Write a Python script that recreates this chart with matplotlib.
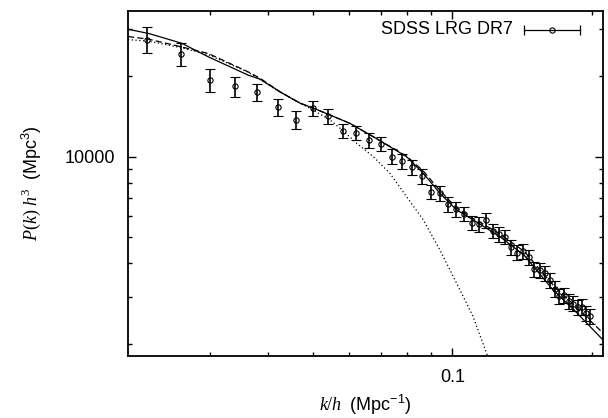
import numpy as np
import matplotlib
matplotlib.use("Agg")
import matplotlib.pyplot as plt
from matplotlib.ticker import FixedLocator, FixedFormatter, NullFormatter

plt.rcParams['font.family'] = ['Liberation Sans', 'DejaVu Sans']
plt.rcParams['mathtext.fontset'] = 'custom'
plt.rcParams['mathtext.rm'] = 'Liberation Serif'
plt.rcParams['mathtext.it'] = 'Liberation Serif:italic'
plt.rcParams['mathtext.sf'] = 'Liberation Sans'

# SDSS LRG DR7 band powers
k_data = [0.022, 0.026, 0.030, 0.034, 0.038, 0.042, 0.046, 0.050, 0.054, 0.058,
          0.062, 0.066, 0.070, 0.074, 0.078, 0.082, 0.086, 0.090, 0.094, 0.098,
          0.102, 0.106, 0.110, 0.114, 0.118, 0.122, 0.126, 0.130, 0.134, 0.138,
          0.142, 0.146, 0.150, 0.154, 0.158, 0.162, 0.166, 0.170, 0.174, 0.178,
          0.182, 0.186, 0.190, 0.194, 0.198]
p_data = [27370, 24130, 19310, 18290, 17380, 15320, 13740, 15150, 14150, 12500,
          12290, 11510, 11180, 10000, 9613, 9155, 8475, 7388, 7305, 6646,
          6370, 6115, 5662, 5598, 5775, 5296, 5130, 5021, 4581, 4377,
          4426, 4205, 3805, 3760, 3664, 3448, 3208, 3009, 3040, 2880,
          2826, 2743, 2750, 2600, 2534]
p_err = [3000, 2350, 1870, 1560, 1310, 1150, 1020, 935, 930, 750,
         750, 720, 700, 650, 620, 590, 540, 470, 460, 420,
         400, 380, 360, 350, 360, 330, 320, 310, 290, 280,
         280, 270, 245, 240, 235, 220, 210, 195, 195, 190,
         185, 180, 180, 170, 165]

# model curves
k_solid = [0.0200, 0.0222, 0.0261, 0.0298, 0.0363, 0.0385, 0.0425, 0.0469, 0.0501,
           0.0545, 0.0601, 0.0675, 0.0796, 0.0865, 0.0939, 0.1020, 0.1107, 0.1264,
           0.1430, 0.1644, 0.1850, 0.2105]
p_solid = [29910, 28830, 26520, 23590, 20160, 19480, 17470, 15850, 15190,
           14300, 13320, 11870, 10000, 8674, 7305, 6331, 5809, 5034,
           4266, 3187, 2617, 2075]

k_dash = [0.0200, 0.0222, 0.0261, 0.0298, 0.0363, 0.0385, 0.0425, 0.0469, 0.0501,
          0.0545, 0.0601, 0.0675, 0.0796, 0.0865, 0.0939, 0.1020, 0.1107, 0.1264,
          0.1430, 0.1644, 0.1850, 0.2105]
p_dash = [28100, 27450, 25690, 24280, 20730, 19630, 17470, 15850, 15190,
          14300, 13320, 11870, 10050, 8845, 7482, 6440, 5885, 5152,
          4415, 3326, 2731, 2203]

k_dot = [0.0200, 0.0222, 0.0261, 0.0298, 0.0363, 0.0425, 0.0501, 0.0545, 0.0582,
         0.0622, 0.0675, 0.0733, 0.0796, 0.0865, 0.0939, 0.1020, 0.1107, 0.1183, 0.1200]
p_dot = [27370, 26990, 25520, 24030, 20690, 17420, 14930, 13700, 12470,
         11220, 10000, 8674, 7096, 5809, 4492, 3375, 2534, 1851, 1720]

fig = plt.figure(figsize=(6.08, 4.18), dpi=100)
ax = fig.add_axes([0.2105, 0.1483, 0.7813, 0.8254])

ax.plot(k_solid, p_solid, color='k', lw=0.9, ls='-')
ax.plot(k_dash, p_dash, color='k', lw=0.9, ls=(0, (5, 2.5)))
ax.plot(k_dot, p_dot, color='k', lw=0.9, ls=(0, (1, 2)))
ax.errorbar(k_data, p_data, yerr=p_err, fmt='o', ms=3.8, mfc='none', mec='k',
            mew=0.8, ecolor='k', elinewidth=1.2, capsize=3.8, capthick=1.2)

ax.set_xscale('log')
ax.set_yscale('log')
ax.set_xlim(0.02, 0.211)
ax.set_ylim(1800, 35000)

ax.xaxis.set_major_locator(FixedLocator([0.1]))
ax.xaxis.set_major_formatter(FixedFormatter(['0.1']))
ax.xaxis.set_minor_locator(FixedLocator([0.03, 0.04, 0.05, 0.06, 0.07, 0.08, 0.09, 0.2]))
ax.xaxis.set_minor_formatter(NullFormatter())
ax.yaxis.set_major_locator(FixedLocator([10000]))
ax.yaxis.set_major_formatter(FixedFormatter(['10000']))
ax.yaxis.set_minor_locator(FixedLocator([2000, 3000, 4000, 5000, 6000, 7000, 8000, 9000,
                                         20000, 30000]))
ax.yaxis.set_minor_formatter(NullFormatter())

ax.tick_params(which='both', direction='in', top=True, right=True, width=1.0,
               labelsize=13)
ax.tick_params(which='major', length=6, pad=9)
ax.tick_params(which='minor', length=3)
for s in ax.spines.values():
    s.set_linewidth(1.3)

ax.set_xlabel(r'$k/h\ \ \mathsf{(Mpc^{-1})}$', fontsize=13, labelpad=5)
ax.set_ylabel(r'$P(k)\ h^3\ \ \mathsf{(Mpc^3)}$', fontsize=13, labelpad=16)

# gnuplot-style key
ax.text(0.81, 0.945, 'SDSS LRG DR7', transform=ax.transAxes, ha='right',
        va='center', fontsize=13)
ax.plot([0.834, 0.952], [0.945, 0.945], transform=ax.transAxes, color='k', lw=0.9)
ax.plot([0.834, 0.952], [0.945, 0.945], transform=ax.transAxes, ls='none',
        marker='|', ms=7, mew=0.9, color='k')
ax.plot([0.893], [0.945], transform=ax.transAxes, ls='none', marker='o', ms=3.8,
        mfc='none', mec='k', mew=0.8)

fig.savefig('out.png', dpi=100)
